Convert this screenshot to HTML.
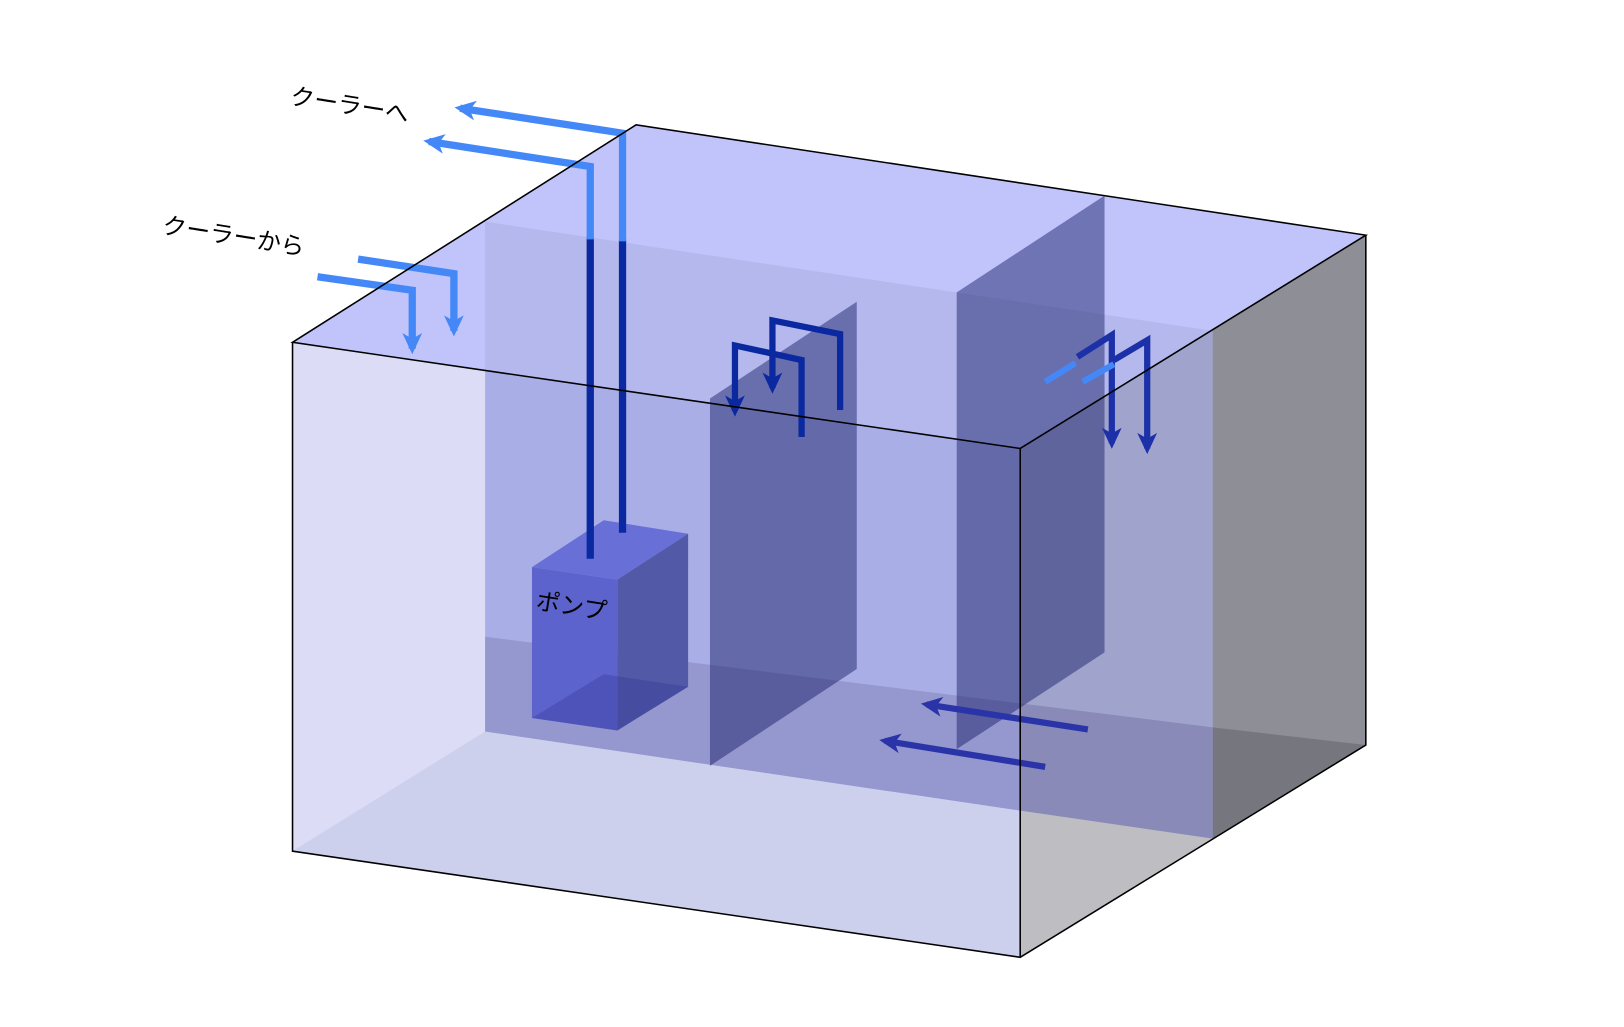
<!DOCTYPE html>
<html><head><meta charset="utf-8"><style>
html,body{margin:0;padding:0;background:#fff;}
svg{display:block;}
text{font-family:"Liberation Sans","Noto Sans CJK JP",sans-serif;font-size:23px;fill:#000;}
</style></head><body>
<svg width="1624" height="1027" viewBox="0 0 1560 987" preserveAspectRatio="none" xmlns="http://www.w3.org/2000/svg">
<defs>
<marker id="al" markerWidth="22" markerHeight="19" refX="11" refY="7" orient="auto" markerUnits="userSpaceOnUse" viewBox="0 0 16 14">
<path d="M0,0 L15,7 L0,14 L4,7 Z" fill="context-stroke"/></marker>
</defs>
<polygon points="281,329 611,120 1312,226 980,431" fill="#c0c4fb"/>
<polygon points="980,431 1312,226 1312,716 980,920" fill="#8e8e96"/>
<polygon points="281,329 980,431 980,920 281,818" fill="#dcdcf7"/>
<polygon points="281,818 466,703 980,779 980,920" fill="#cdd0ec"/>
<polygon points="466,213 1165,318 980,431 466,356" fill="#b4b8ec"/>
<polygon points="466,356 980,431 980,779 466,703" fill="#aaaee6"/>
<polygon points="466,612 980,676 980,779 466,703" fill="#9597cf"/>
<polygon points="980,431 1165,317 1165,806 980,779" fill="#a0a4cc"/>
<polygon points="980,676 1165,699 1165,806 980,779" fill="#8a8ab8"/>
<polygon points="980,779 1165,806 980,920" fill="#bebec2"/>
<polygon points="1165,699 1312,716 1165,806" fill="#76767f"/>
<polygon points="682,383 823,290 823,643 682,736" fill="rgb(30,35,110)" fill-opacity="0.5"/>
<polygon points="919,281 1061,188 1061,627 919,720" fill="rgb(30,35,110)" fill-opacity="0.5"/>
<polygon points="511,545 580,500 661,513 593,557" fill="#6870d8"/>
<polygon points="511,545 593,557 593,702 511,690" fill="#5c63cc"/>
<polygon points="593,557 661,513 661,660 593,702" fill="#525aa8"/>
<polygon points="511,690 580,648 661,660 593,702" fill="#2a3090" fill-opacity="0.3"/>
<g fill="none" stroke-width="7" stroke-linejoin="miter">
<polyline points="567,537 567,228" stroke="#0a28a0"/>
<polyline points="567,230 567,160 412,136" stroke="#4488f8" marker-end="url(#al)"/>
<polyline points="598,512 598,230" stroke="#0a28a0"/>
<polyline points="598,232 598,128 442,104" stroke="#4488f8" marker-end="url(#al)"/>
<polyline points="305,266 396,279 396,335" stroke="#4488f8" marker-end="url(#al)"/>
<polyline points="344,249 436,263 436,318" stroke="#4488f8" marker-end="url(#al)"/>
<polyline points="770,420 770,346 706,332 706,395" stroke="#0a28a0" marker-end="url(#al)" stroke-width="6"/>
<polyline points="807,394 807,321 742,308 742,373" stroke="#0a28a0" marker-end="url(#al)" stroke-width="6"/>
<line x1="1004" y1="367" x2="1033" y2="349" stroke="#4488f8" stroke-width="6"/>
<polyline points="1035,343 1068,322 1068,426" stroke="#1c30a8" marker-end="url(#al)" stroke-width="6"/>
<line x1="1040" y1="367" x2="1070" y2="350" stroke="#4488f8" stroke-width="6"/>
<polyline points="1070,346 1102,327 1102,431" stroke="#1c30a8" marker-end="url(#al)" stroke-width="6"/>
<line x1="1045" y1="701" x2="890" y2="677" stroke="#2a34a8" stroke-width="6" marker-end="url(#al)"/>
<line x1="1004" y1="737" x2="850" y2="712" stroke="#2a34a8" stroke-width="6" marker-end="url(#al)"/>
</g>
<g fill="none" stroke="#000" stroke-width="1.5">
<polygon points="281,329 611,120 1312,226 980,431"/>
<polyline points="281,329 281,818 980,920 1312,716 1312,226"/>
<line x1="980" y1="431" x2="980" y2="920"/>
</g>
<text x="278" y="100" transform="rotate(9 278 100)">クーラーへ</text>
<text x="155" y="224" transform="rotate(9 155 224)">クーラーから</text>
<text x="514" y="585" transform="rotate(9 514 585)">ポンプ</text>
</svg>
</body></html>
